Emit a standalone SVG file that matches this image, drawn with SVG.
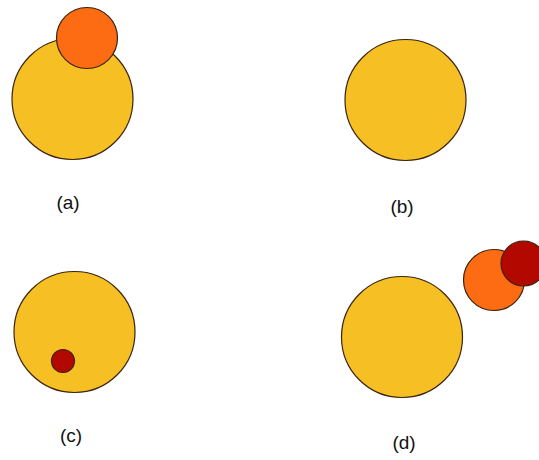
<svg xmlns="http://www.w3.org/2000/svg" width="539" height="460" viewBox="0 0 539 460">
<style>
.big{fill:#F6BF23;stroke:#3a2410;stroke-width:1.2}
.mid{fill:#FD6B12;stroke:#3a2410;stroke-width:1.2}
.sm{fill:#B20800;stroke:#3a2410;stroke-width:1.2}
.lbl{font-family:"Liberation Sans",Arial,sans-serif;font-size:19px;fill:#111;text-anchor:middle}
</style>
<rect width="539" height="460" fill="#fff"/>
<g id="a">
<circle class="big" cx="72.5" cy="99" r="60.5"/>
<circle class="mid" cx="87" cy="38" r="30.5"/>
<text class="lbl" x="68" y="209">(a)</text>
</g>
<g id="b">
<circle class="big" cx="405.5" cy="100" r="60.5"/>
<text class="lbl" x="402" y="213">(b)</text>
</g>
<g id="c">
<circle class="big" cx="74.5" cy="332" r="60.5"/>
<circle class="sm" cx="63" cy="361" r="11.5"/>
<text class="lbl" x="71" y="442">(c)</text>
</g>
<g id="d">
<circle class="big" cx="402" cy="337" r="60.5"/>
<circle class="mid" cx="494" cy="280" r="30.5"/>
<circle class="sm" cx="523.5" cy="263.5" r="22.5"/>
<text class="lbl" x="404" y="449">(d)</text>
</g>
</svg>
